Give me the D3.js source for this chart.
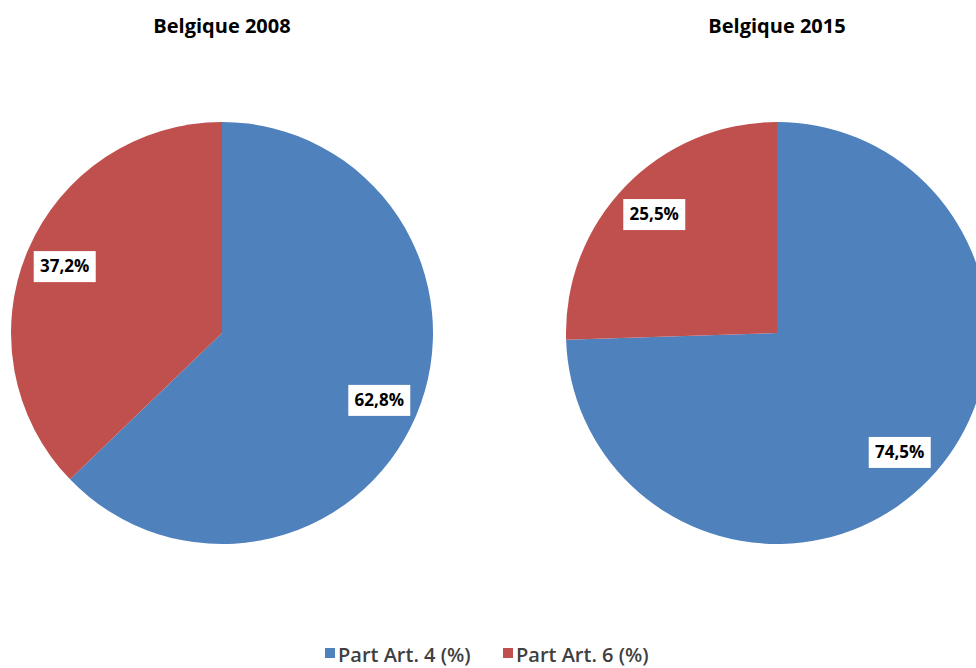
<!DOCTYPE html>
<html>
<head>
<meta charset="utf-8">
<script src="https://cdn.jsdelivr.net/npm/d3@7"></script>
<style>
  body { margin: 0; background: #fff; }
  svg { display: block; }
</style>
</head>
<body>
<script>
  const categories = ['Part Art. 4 (%)', 'Part Art. 6 (%)'];
  const years = ['Belgique 2008', 'Belgique 2015'];
  const values2008 = [62.8, 37.2];
  const values2015 = [74.5, 25.5];
  const series = [values2008, values2015];

  const width = 976;
  const height = 668;
  const radius = 211;
  const centers = [222, 777];
  const cy = 333;

  const color = d3.scaleOrdinal()
    .domain(categories)
    .range(['#4F81BD', '#C0504D']);

  const fmt = v => d3.format('.1f')(v).replace('.', ',') + '%';

  const pie = d3.pie().sort(null).value(d => d.value);
  const arc = d3.arc().innerRadius(0).outerRadius(radius);
  const labelArc = d3.arc().innerRadius(radius * 0.81).outerRadius(radius * 0.81);

  const svg = d3.select('body')
    .append('svg')
    .attr('width', width)
    .attr('height', height);

  series.forEach((vals, k) => {
    const data = vals.map((v, i) => ({cat: categories[i], value: v}));

    svg.append('text')
      .attr('x', centers[k])
      .attr('y', 33)
      .attr('text-anchor', 'middle')
      .style('font-family', '"Open Sans", sans-serif')
      .style('font-weight', 'bold')
      .style('font-size', '20px')
      .style('fill', '#000')
      .text(years[k]);

    const g = svg.append('g')
      .attr('transform', `translate(${centers[k]}, ${cy})`);

    g.selectAll('path')
      .data(pie(data))
      .enter()
      .append('path')
      .attr('fill', d => color(d.data.cat))
      .attr('d', arc);

    const lab = g.selectAll('g.lab')
      .data(pie(data))
      .enter()
      .append('g')
      .attr('class', 'lab')
      .attr('transform', d => {
        const c = labelArc.centroid(d);
        return `translate(${c[0]}, ${c[1]})`;
      });

    lab.append('rect')
      .attr('x', -31)
      .attr('y', -15)
      .attr('width', 62)
      .attr('height', 31)
      .attr('fill', '#fff');

    lab.append('text')
      .attr('text-anchor', 'middle')
      .attr('dy', '0.36em')
      .style('font-family', '"Open Sans", sans-serif')
      .style('font-weight', 'bold')
      .style('font-size', '17px')
      .style('fill', '#000')
      .text(d => fmt(d.data.value));
  });

  // legend
  const legendX = [325, 503];
  const legend = svg.selectAll('g.legend')
    .data(categories)
    .enter()
    .append('g')
    .attr('class', 'legend')
    .attr('transform', (d, i) => `translate(${legendX[i]}, 648)`);

  legend.append('rect')
    .attr('width', 10)
    .attr('height', 10)
    .attr('fill', d => color(d));

  legend.append('text')
    .attr('x', 13)
    .attr('y', 14)
    .style('font-family', '"Open Sans", sans-serif')
    .style('font-weight', '600')
    .style('font-size', '20px')
    .style('fill', '#404040')
    .text(d => d);
</script>
</body>
</html>
